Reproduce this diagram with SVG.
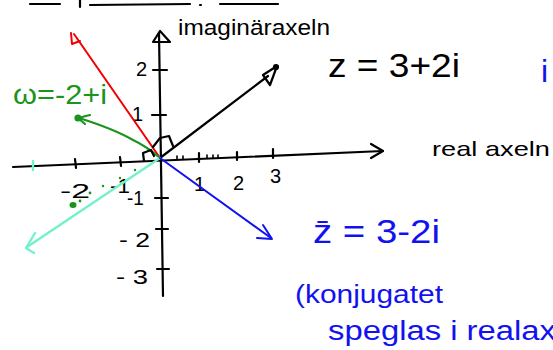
<svg xmlns="http://www.w3.org/2000/svg" width="553" height="350" viewBox="0 0 553 350">
<style>
  .ink{fill:none;stroke-linecap:round;stroke-linejoin:round}
  .k{stroke:#000;stroke-width:2.2}
  .kt{stroke:#000;stroke-width:1.6}
  .r{stroke:#f00000;stroke-width:2}
  .g{stroke:#1a941a;stroke-width:2.2}
  .c{stroke:#72f2cc;stroke-width:2.4}
  .b{stroke:#1212f0;stroke-width:2}
  text{font-family:"Liberation Sans",Arial,sans-serif}
  .tk{fill:#000}
  .tb{fill:#1212f0}
  .tg{fill:#1a941a}
</style>
<rect width="553" height="350" fill="#fff"/>

<g id="top-strokes" class="ink k">
  <path d="M30,4 L60,4"/>
  <path d="M80,0 L80,7"/>
  <path d="M90,5 L190,4"/>
  <path d="M200,5 L201,5"/>
  <path d="M220,4 L278,4"/>
</g>

<g id="axes" class="ink k">
  <path d="M13,167 L383,151"/>
  <path d="M371,144 L383,151 L371,158"/>
  <path d="M159,33 L163,296"/>
  <path d="M153,42 L160,31 L170,42 Z"/>
</g>

<g id="ticks" class="ink k">
  <path d="M75,159 L76,168"/>
  <path d="M120,157 L121,166"/>
  <path d="M199,153 L199,162"/>
  <path d="M237,152 L237,160"/>
  <path d="M273,149 L273,158"/>
  <path d="M153,70 L167,70"/>
  <path d="M152,115 L166,115"/>
  <path d="M155,198 L168,198"/>
  <path d="M156,229 L168,229"/>
  <path d="M157,269 L169,269"/>
</g>
<g id="minor-ticks" class="ink kt">
  <path d="M177,156 L177,159"/>
  <path d="M183,156 L183,159"/>
  <path d="M207,155 L207,158"/>
  <path d="M213,155 L213,158"/>
  <path d="M218,155 L218,158"/>
</g>

<g id="tick-labels" class="tk" font-size="20">
  <text x="136" y="76">2</text>
  <text x="132" y="121">1</text>
  <text x="127" y="205" textLength="17" lengthAdjust="spacingAndGlyphs">-1</text>
  <text x="119" y="247" textLength="31" lengthAdjust="spacingAndGlyphs">- 2</text>
  <text x="116" y="284" textLength="32" lengthAdjust="spacingAndGlyphs">- 3</text>
  <text x="60" y="198" textLength="30" lengthAdjust="spacingAndGlyphs">-2</text>
  <text x="110" y="193" textLength="20" lengthAdjust="spacingAndGlyphs">-1</text>
  <text x="194" y="191">1</text>
  <text x="233" y="190">2</text>
  <text x="270" y="183">3</text>
</g>

<g id="connectors">
  <g id="vector-z" class="ink k">
    <path d="M160,158 L268,76"/>
    <path d="M277,66 L263,75 L270,85 Z"/>
    <circle cx="276" cy="67" r="2" fill="#000"/>
  </g>
  <g id="vector-red" class="ink r">
    <path d="M160,158 L74,34"/>
    <path d="M71,33 L72,44 L80,41"/>
  </g>
  <g id="vector-omega" class="ink g">
    <path d="M160,158 Q146,146 133,140 Q114,129 79,118"/>
    <path d="M90,115 L78,118 L85,124"/>
    <circle cx="78" cy="118" r="2.5" fill="#1a941a"/>
  </g>
  <g id="dotted-green" fill="#1a941a">
    <circle cx="135" cy="170" r="1.2"/>
    <circle cx="120" cy="178" r="1.2"/>
    <circle cx="103" cy="186" r="1.2"/>
    <circle cx="90" cy="193" r="1.4"/>
    <circle cx="80" cy="201" r="1.4"/>
    <ellipse cx="73" cy="205" rx="3.5" ry="3"/>
  </g>
  <g id="vector-cyan" class="ink c">
    <path d="M160,158 L27,247"/>
    <path d="M35,233 L26,248 L34,253"/>
    <path d="M33,161 L33,170"/>
  </g>
  <g id="vector-zbar" class="ink b">
    <path d="M160,158 L271,238"/>
    <path d="M263,225 L272,239 L257,238"/>
  </g>
  <g id="right-angles" class="ink k">
    <path d="M153,147 L160,138 L169,136 L173,146"/>
    <path d="M144,161 L143,153 L151,150 L154,156"/>
  </g>
</g>

<g id="labels">
  <text class="tk" x="178" y="35" font-size="22" textLength="152" lengthAdjust="spacingAndGlyphs">imaginäraxeln</text>
  <text class="tk" x="432" y="156" font-size="21" textLength="118" lengthAdjust="spacingAndGlyphs">real axeln</text>
  <text class="tk" x="328" y="77" font-size="33" textLength="132" lengthAdjust="spacingAndGlyphs">z = 3+2i</text>
  <text class="tb" x="541" y="82" font-size="32">i</text>
  <text class="tg" x="13" y="104" font-size="28" textLength="94" lengthAdjust="spacingAndGlyphs">ω=-2+i</text>
  <text class="tb" x="313" y="243" font-size="33" textLength="127" lengthAdjust="spacingAndGlyphs">z̄ = 3-2i</text>
  <text class="tb" x="295" y="303" font-size="26" textLength="148" lengthAdjust="spacingAndGlyphs">(konjugatet</text>
  <text class="tb" x="328" y="340" font-size="27" textLength="228" lengthAdjust="spacingAndGlyphs">speglas i realax</text>
</g>
</svg>
